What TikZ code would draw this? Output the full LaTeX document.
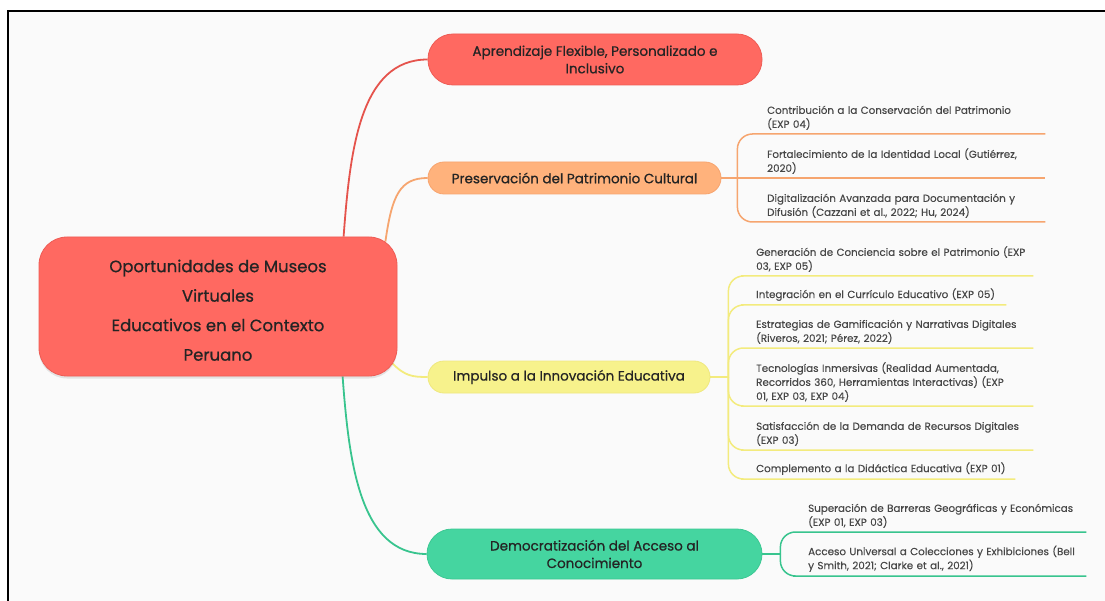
\documentclass[tikz,border=0pt]{standalone}
\usepackage{fontspec}
\setmainfont{Poppins}
\newfontfamily\topicfont{Poppins}[UprightFeatures={FakeBold=0.7}]
\newfontfamily\leaffont{Poppins}[UprightFeatures={FakeBold=0.25}]
\usetikzlibrary{backgrounds,calc,shadows}

\definecolor{paper}{HTML}{FAFAFA}
\definecolor{ink}{HTML}{242424}
\definecolor{itemink}{HTML}{474747}
\definecolor{redfill}{HTML}{FF6961}
\definecolor{rededge}{HTML}{EE5C55}
\definecolor{redline}{HTML}{E5534C}
\definecolor{orfill}{HTML}{FFB27C}
\definecolor{oredge}{HTML}{F7A46E}
\definecolor{orline}{HTML}{F6A56F}
\definecolor{yefill}{HTML}{F7F28C}
\definecolor{yeedge}{HTML}{EFE87E}
\definecolor{yeline}{HTML}{F3EB7D}
\definecolor{grfill}{HTML}{45D5A0}
\definecolor{gredge}{HTML}{3CC893}
\definecolor{grline}{HTML}{38C48E}

\tikzset{
  rootbox/.style={fill=redfill, draw=rededge, line width=0.8pt, rounded corners=28pt,
    minimum width=358pt, minimum height=139pt, inner sep=0pt, align=center, text=ink,
    font=\topicfont\fontsize{16.5}{29.5}\selectfont,
    drop shadow={opacity=0.18, shadow xshift=0pt, shadow yshift=-2.5pt}},
  branchbox/.style={line width=0.8pt, inner sep=0pt, align=center, text=ink,
    font=\topicfont\fontsize{13.5}{17.5}\selectfont},
  itembox/.style={anchor=south west, inner xsep=0pt, inner ysep=4pt, align=left,
    text=itemink, font=\leaffont\fontsize{10.3}{14}\selectfont},
  mainlink/.style={line width=1.8pt},
  sublink/.style={line width=1.5pt, rounded corners=15pt},
}

\begin{document}
\begin{tikzpicture}[x=1pt, y=-1pt]
\useasboundingbox (0,0) rectangle (1105,601);

% central topic
\node[rootbox] (C) at (218,306.5)
  {\rule{0pt}{20pt}Oportunidades de Museos\\Virtuales\\Educativos en el Contexto\\Peruano};

% main branches
\node[branchbox, fill=redfill, draw=rededge, rounded corners=25pt,
      minimum width=334pt, minimum height=51pt] (B1) at (595,59.5)
  {Aprendizaje Flexible, Personalizado e\\Inclusivo};
\node[branchbox, fill=orfill, draw=oredge, rounded corners=16pt,
      minimum width=293pt, minimum height=32pt] (B2) at (574.5,178)
  {Preservación del Patrimonio Cultural};
\node[branchbox, fill=yefill, draw=yeedge, rounded corners=16pt,
      minimum width=282pt, minimum height=32pt] (B3) at (569,377)
  {Impulso a la Innovación Educativa};
\node[branchbox, fill=grfill, draw=gredge, rounded corners=25pt,
      minimum width=335pt, minimum height=50pt] (B4) at (594.5,554)
  {Democratización del Acceso al\\Conocimiento};

% leaves of the heritage branch
\node[itembox, text width=278pt] (O1) at (767,134)
  {Contribución a la Conservación del Patrimonio\\(EXP 04)};
\node[itembox, text width=278pt] (O2) at (767,178)
  {Fortalecimiento de la Identidad Local (Gutiérrez,\\2020)};
\node[itembox, text width=278pt] (O3) at (767,222)
  {Digitalización Avanzada para Documentación y\\Difusión (Cazzani et al., 2022; Hu, 2024)};

% leaves of the innovation branch
\node[itembox, text width=277pt] (Y1) at (756,276)
  {Generación de Conciencia sobre el Patrimonio (EXP\\03, EXP 05)};
\node[itembox, text width=250pt] (Y2) at (756,305)
  {Integración en el Currículo Educativo (EXP 05)};
\node[itembox, text width=277pt] (Y3) at (756,348)
  {Estrategias de Gamificación y Narrativas Digitales\\(Riveros, 2021; Pérez, 2022)};
\node[itembox, text width=277pt] (Y4) at (756,406)
  {Tecnologías Inmersivas (Realidad Aumentada,\\Recorridos 360, Herramientas Interactivas) (EXP\\01, EXP 03, EXP 04)};
\node[itembox, text width=277pt] (Y5) at (756,450)
  {Satisfacción de la Demanda de Recursos Digitales\\(EXP 03)};
\node[itembox, text width=259pt] (Y6) at (756,479)
  {Complemento a la Didáctica Educativa (EXP 01)};

% leaves of the access branch
\node[itembox, text width=278pt] (G1) at (808,532)
  {Superación de Barreras Geográficas y Económicas\\(EXP 01, EXP 03)};
\node[itembox, text width=278pt] (G2) at (808,576)
  {Acceso Universal a Colecciones y Exhibiciones (Bell\\y Smith, 2021; Clarke et al., 2021)};

\begin{scope}[on background layer]
  % page and frame
  \fill[white] (0,0) rectangle (1105,601);
  \fill[paper] (8,11) rectangle (1105,601);
  \draw[black, line width=2.5pt] (8,601) -- (8,11) -- (1105,11);

  % links from the central topic
  \draw[mainlink, redline] ($(C.north west)+(305,0)$)
    .. controls (350,150) and (360,59.5) .. (B1.west);
  \draw[mainlink, orline] ($(C.north east)+(-12,5)$)
    .. controls (392,195) and (400,178) .. (B2.west);
  \draw[mainlink, yeline] ($(C.south east)+(-5,-13)$)
    .. controls (405,376) and (412,377) .. (B3.west);
  \draw[mainlink, grline] ($(C.south west)+(304,0)$)
    .. controls (349,463) and (360,554) .. (B4.west);

  % heritage leaves
  \coordinate (JO) at ($(B2.east)+(16,0)$);
  \draw[sublink, orline] (B2.east) -- (O2.south west) -- (O2.south east);
  \draw[sublink, orline] (JO) |- (O1.south west) -- (O1.south east);
  \draw[sublink, orline] (JO) |- (O3.south west) -- (O3.south east);

  % innovation leaves
  \coordinate (JY) at ($(B3.east)+(18,0)$);
  \draw[sublink, yeline] (B3.east) -- (JY);
  \foreach \leaf in {Y1,Y2,Y3,Y4,Y5,Y6}
    \draw[sublink, yeline] (JY) |- (\leaf.south west) -- (\leaf.south east);

  % access leaves
  \coordinate (JG) at ($(B4.east)+(18,0)$);
  \draw[sublink, grline] (B4.east) -- (JG);
  \draw[sublink, grline] (JG) |- (G1.south west) -- (G1.south east);
  \draw[sublink, grline] (JG) |- (G2.south west) -- (G2.south east);
\end{scope}
\end{tikzpicture}
\end{document}
